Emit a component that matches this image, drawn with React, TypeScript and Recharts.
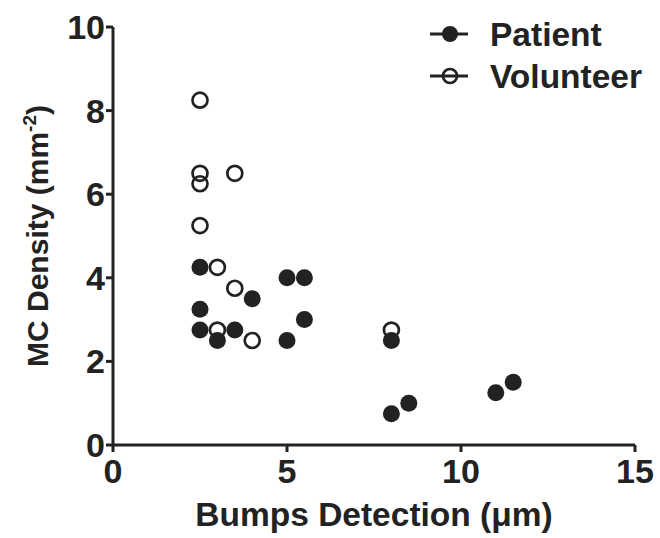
import React from 'react';
import { ScatterChart, Scatter, XAxis, YAxis, Legend } from 'recharts';

const patientX = [2.5, 2.5, 2.5, 3, 3.5, 4, 5, 5, 5.5, 5.5, 8, 8, 8.5, 11, 11.5];
const patientY = [4.25, 3.25, 2.75, 2.5, 2.75, 3.5, 4, 2.5, 4, 3, 2.5, 0.75, 1, 1.25, 1.5];
const volunteerX = [2.5, 2.5, 2.5, 2.5, 3, 3, 3.5, 3.5, 4, 8];
const volunteerY = [8.25, 6.5, 6.25, 5.25, 4.25, 2.75, 6.5, 3.75, 2.5, 2.75];

const xTicks = [0, 5, 10, 15];
const yTicks = [0, 2, 4, 6, 8, 10];
const seriesNames = ['Patient', 'Volunteer'];

const patientData = patientX.map((x, i) => ({ x, y: patientY[i] }));
const volunteerData = volunteerX.map((x, i) => ({ x, y: volunteerY[i] }));

const INK = '#222222';
const FONT = '"Liberation Sans", Arial, sans-serif';

const FilledDot = (props: any) => <circle cx={props.cx} cy={props.cy} r={8.5} fill={INK} />;
const OpenDot = (props: any) => (
  <circle cx={props.cx} cy={props.cy} r={7.5} fill="none" stroke={INK} strokeWidth={2.7} />
);

const XLabel = ({ viewBox }: any) => (
  <text
    x={viewBox.x + viewBox.width / 2}
    y={viewBox.y + 81}
    textAnchor="middle"
    fill={INK}
    fontFamily={FONT}
    fontWeight="bold"
    fontSize={33.5}
  >
    Bumps Detection (μm)
  </text>
);

const YLabel = ({ viewBox }: any) => {
  const cx = 48;
  const cy = viewBox.y + viewBox.height / 2;
  return (
    <text
      x={cx}
      y={cy}
      transform={`rotate(-90, ${cx}, ${cy})`}
      textAnchor="middle"
      fill={INK}
      fontFamily={FONT}
      fontWeight="bold"
      fontSize={30}
    >
      <tspan>MC Density (mm</tspan>
      <tspan fontSize={19} dy={-12}>-2</tspan>
      <tspan dy={12}>)</tspan>
    </text>
  );
};

const LegendBox = () => (
  <svg width={240} height={100}>
    {seriesNames.map((name, i) => {
      const cy = 34 + i * 42;
      return (
        <g key={name}>
          <line x1={10} x2={48} y1={cy} y2={cy} stroke={INK} strokeWidth={3} />
          {i === 0 ? (
            <circle cx={30} cy={cy} r={8} fill={INK} />
          ) : (
            <circle cx={30} cy={cy} r={7} fill="none" stroke={INK} strokeWidth={2.7} />
          )}
          <text x={70} y={cy + 12} fill={INK} fontFamily={FONT} fontWeight="bold" fontSize={33.5}>
            {name}
          </text>
        </g>
      );
    })}
  </svg>
);

export default function App() {
  const tickStyle = { fill: INK, fontSize: 34, fontWeight: 'bold', fontFamily: FONT };
  return (
    <div style={{ position: 'absolute', left: 0, top: 0, background: '#fff' }}>
      <ScatterChart width={660} height={538} margin={{ top: 27, right: 25, bottom: 0, left: 0 }}>
        <XAxis
          type="number"
          dataKey="x"
          domain={[0, 15]}
          ticks={xTicks}
          interval={0}
          height={93}
          axisLine={{ stroke: INK, strokeWidth: 3 }}
          tickLine={{ stroke: INK, strokeWidth: 3 }}
          tickSize={7}
          tickMargin={7}
          tick={tickStyle}
          label={<XLabel />}
        />
        <YAxis
          type="number"
          dataKey="y"
          domain={[0, 10]}
          ticks={yTicks}
          interval={0}
          width={113}
          axisLine={{ stroke: INK, strokeWidth: 3 }}
          tickLine={{ stroke: INK, strokeWidth: 3 }}
          tickSize={7}
          tickMargin={1}
          tick={tickStyle}
          label={<YLabel />}
        />
        <Legend
          layout="vertical"
          align="center"
          verticalAlign="middle"
          content={<LegendBox />}
          wrapperStyle={{ top: 0, left: 420, width: 240, height: 100 }}
        />
        <Scatter name="Volunteer" data={volunteerData} shape={<OpenDot />} isAnimationActive={false} />
        <Scatter name="Patient" data={patientData} shape={<FilledDot />} isAnimationActive={false} />
      </ScatterChart>
    </div>
  );
}
